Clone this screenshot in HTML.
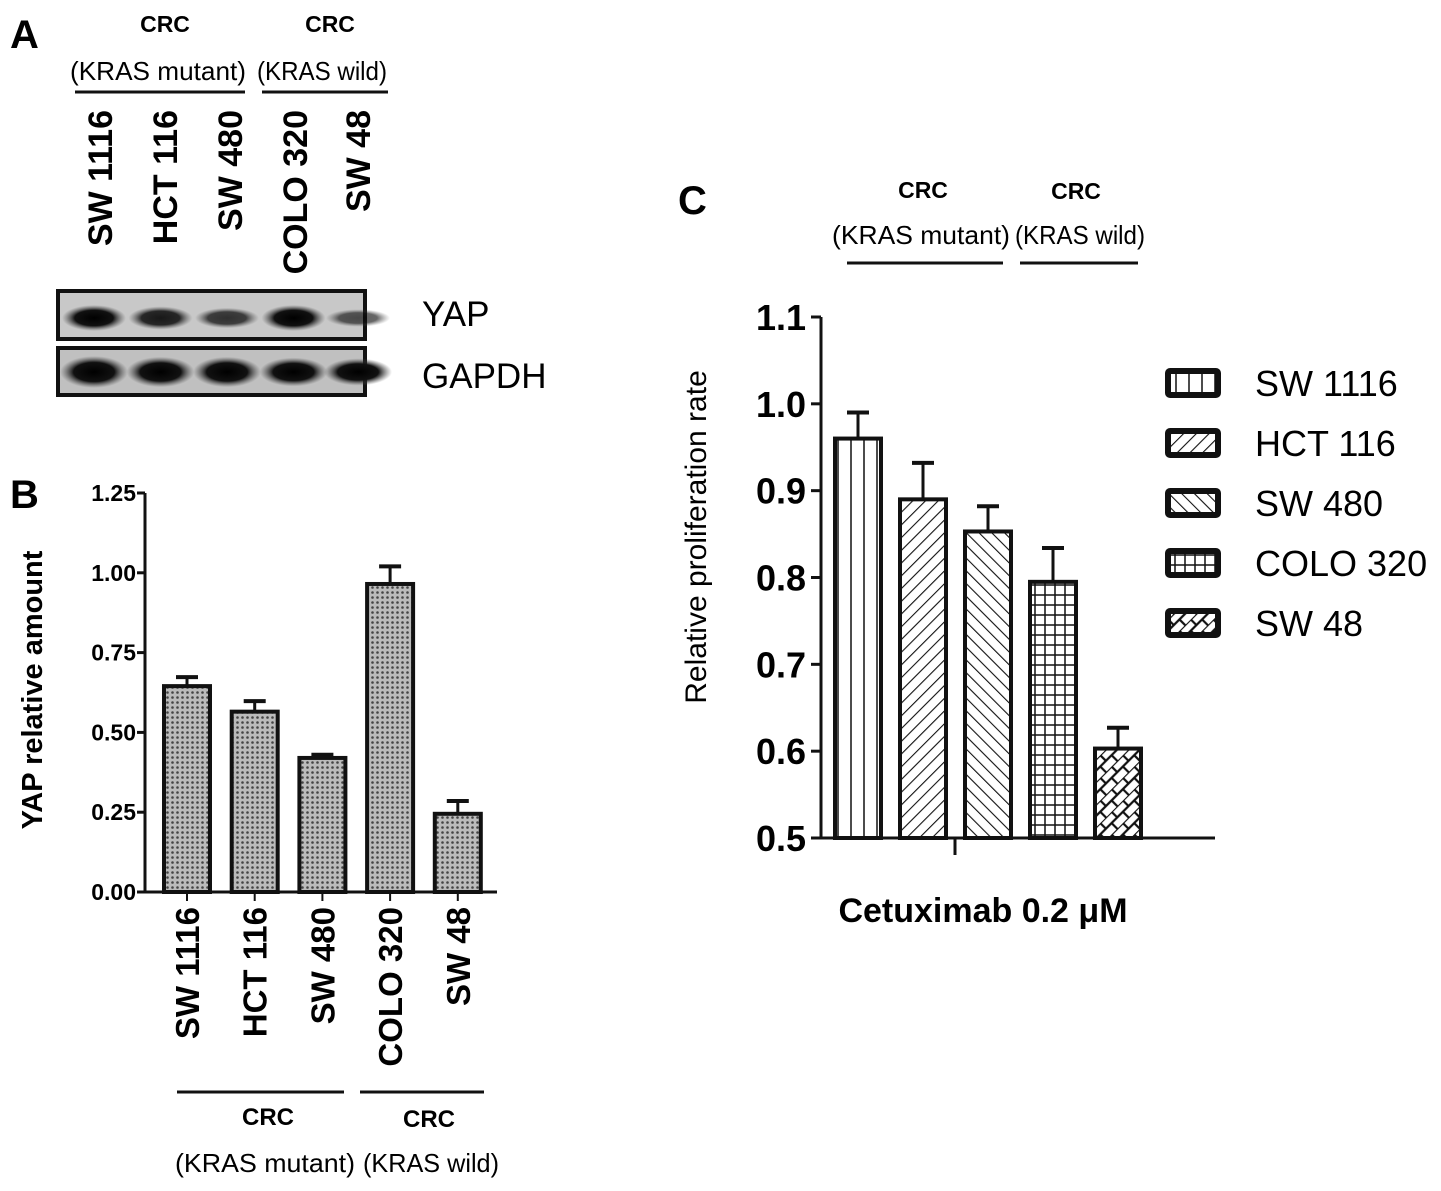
<!DOCTYPE html>
<html><head><meta charset="utf-8"><style>
html,body{margin:0;padding:0;background:#fff}
svg{display:block;font-family:"Liberation Sans",Arial,sans-serif}
.b{font-weight:bold}
</style></head><body>
<svg id="fig" width="1441" height="1191" viewBox="0 0 1441 1191">
<defs>
<pattern id="pDots" width="5" height="5" patternUnits="userSpaceOnUse"><rect width="5" height="5" fill="#bbb"/><circle cx="2.5" cy="2.5" r="1.3" fill="#444"/></pattern>
<pattern id="pVert" width="13" height="10" patternUnits="userSpaceOnUse"><rect width="13" height="10" fill="#fff"/><line x1="6" y1="0" x2="6" y2="10" stroke="#111" stroke-width="1.5"/></pattern>
<pattern id="pDiagR" width="9" height="9" patternUnits="userSpaceOnUse" patternTransform="rotate(45)"><rect width="9" height="9" fill="#fff"/><line x1="0" y1="0" x2="0" y2="9" stroke="#111" stroke-width="2.2"/></pattern>
<pattern id="pDiagL" width="9" height="9" patternUnits="userSpaceOnUse" patternTransform="rotate(-45)"><rect width="9" height="9" fill="#fff"/><line x1="0" y1="0" x2="0" y2="9" stroke="#111" stroke-width="2.2"/></pattern>
<pattern id="pGrid" width="10" height="10" patternUnits="userSpaceOnUse"><rect width="10" height="10" fill="#fff"/><path d="M5 0V10M0 5H10" stroke="#111" stroke-width="1.5"/></pattern>
<pattern id="pBrick" width="16" height="16" patternUnits="userSpaceOnUse" patternTransform="rotate(-45)"><rect width="16" height="16" fill="#fff"/><path d="M0 0H16M0 8H16M4 0V8M12 8V16" stroke="#111" stroke-width="2.2"/></pattern>
<radialGradient id="band"><stop offset="0" stop-color="#000"/><stop offset="0.6" stop-color="#111"/><stop offset="1" stop-color="#555" stop-opacity="0"/></radialGradient>
</defs>

<!-- Panel A -->
<g>
<text x="10" y="48" class="b" font-size="40">A</text>
<text x="165" y="32" class="b" font-size="23" text-anchor="middle">CRC</text>
<text x="330" y="32" class="b" font-size="23" text-anchor="middle">CRC</text>
<text x="70" y="80" font-size="26" textLength="176" lengthAdjust="spacingAndGlyphs">(KRAS mutant)</text>
<text x="257" y="80" font-size="26" textLength="130" lengthAdjust="spacingAndGlyphs">(KRAS wild)</text>
<line x1="75" y1="92" x2="245" y2="92" stroke="#111" stroke-width="3"/>
<line x1="262" y1="92" x2="388" y2="92" stroke="#111" stroke-width="3"/>
<g id="blotLabels" class="b" font-size="34"></g>
<rect x="58" y="291" width="307" height="48" fill="#c8c8c8" stroke="#111" stroke-width="4"/>
<rect x="58" y="348" width="307" height="47" fill="#c0c0c0" stroke="#111" stroke-width="4"/>
<g id="bands"></g>
<text x="422" y="326" font-size="35">YAP</text>
<text x="422" y="388" font-size="35">GAPDH</text>
</g>

<!-- Panel B -->
<g id="panelB">
<text x="10" y="508" class="b" font-size="40">B</text>
<text transform="translate(42,690) rotate(-90)" class="b" font-size="29" text-anchor="middle">YAP relative amount</text>
<line x1="177" y1="1092" x2="344" y2="1092" stroke="#111" stroke-width="3"/>
<line x1="360" y1="1092" x2="484" y2="1092" stroke="#111" stroke-width="3"/>
<text x="268" y="1125" class="b" font-size="24" text-anchor="middle">CRC</text>
<text x="429" y="1127" class="b" font-size="24" text-anchor="middle">CRC</text>
<text x="175" y="1172" font-size="26" textLength="180" lengthAdjust="spacingAndGlyphs">(KRAS mutant)</text>
<text x="363" y="1172" font-size="26" textLength="136" lengthAdjust="spacingAndGlyphs">(KRAS wild)</text>
</g>

<!-- Panel C -->
<g id="panelC">
<text x="678" y="214" class="b" font-size="40">C</text>
<text x="923" y="198" class="b" font-size="23" text-anchor="middle">CRC</text>
<text x="1076" y="199" class="b" font-size="23" text-anchor="middle">CRC</text>
<text x="832" y="244" font-size="26" textLength="178" lengthAdjust="spacingAndGlyphs">(KRAS mutant)</text>
<text x="1015" y="244" font-size="26" textLength="130" lengthAdjust="spacingAndGlyphs">(KRAS wild)</text>
<line x1="847" y1="263" x2="1003" y2="263" stroke="#111" stroke-width="3"/>
<line x1="1020" y1="263" x2="1138" y2="263" stroke="#111" stroke-width="3"/>
<text transform="translate(706,537) rotate(-90)" font-size="30" text-anchor="middle">Relative proliferation rate</text>
<text x="983" y="922" class="b" font-size="34" text-anchor="middle">Cetuximab 0.2 μM</text>
</g>
</svg>
<script>
const cells = ["SW 1116","HCT 116","SW 480","COLO 320","SW 48"];
const yapValues = [0.645, 0.565, 0.42, 0.965, 0.245];
const yapErrors = [0.028, 0.033, 0.01, 0.055, 0.04];
const yapTicks = ["0.00","0.25","0.50","0.75","1.00","1.25"];
const prolValues = [0.96, 0.89, 0.853, 0.795, 0.603];
const prolErrors = [0.03, 0.042, 0.029, 0.039, 0.024];
const prolTicks = ["0.5","0.6","0.7","0.8","0.9","1.0","1.1"];
const yapBand = [1.0, 0.8, 0.6, 1.0, 0.4];
const gapdhBand = [1.0, 0.95, 0.95, 0.9, 0.85];

const NS="http://www.w3.org/2000/svg";
function mk(tag, attrs, parent){const e=document.createElementNS(NS,tag);for(const k in attrs)e.setAttribute(k,attrs[k]);parent.appendChild(e);return e;}

// Panel A lane labels and bands
const laneX=[100,165,230,295,358];
const bl=document.getElementById('blotLabels');
cells.forEach((c,i)=>{
  const t=mk('text',{transform:`translate(${laneX[i]+12},110) rotate(-90)`,'text-anchor':'end'},bl);
  t.textContent=c;
  
  
});
const bands=document.getElementById('bands');
cells.forEach((c,i)=>{
  const a=mk('ellipse',{cx:laneX[i]-6+i*1.5,cy:318,rx:32,ry:6+7*yapBand[i],fill:'url(#band)',opacity:0.4+0.6*yapBand[i]},bands);
  
  
  const g=mk('ellipse',{cx:laneX[i]-6+i*1.5,cy:372,rx:34,ry:16*gapdhBand[i],fill:'url(#band)'},bands);
  
  
});

// Panel B
const pB=document.getElementById('panelB');
const bX0=145, bY0=892, bY1=493, bMax=1.25;
const yB=v=>bY0-(v/bMax)*(bY0-bY1);
const barBX=i=>164+i*67.7;
const bW=46;
mk('line',{x1:bX0,y1:bY1,x2:bX0,y2:bY0+1.5,stroke:'#111','stroke-width':3},pB);
mk('line',{x1:bX0-1.5,y1:bY0,x2:497,y2:bY0,stroke:'#111','stroke-width':3},pB);
yapTicks.forEach(t=>{
  const v=parseFloat(t), y=yB(v);
  mk('line',{x1:bX0-8,y1:y,x2:bX0,y2:y,stroke:'#111','stroke-width':3},pB);
  const tx=mk('text',{x:bX0-9,y:y+8,'text-anchor':'end','font-size':23,'font-weight':'bold'},pB);
  tx.textContent=t;
  
  
});
cells.forEach((c,i)=>{
  const x=barBX(i), cx=x+bW/2, top=yB(yapValues[i]), et=yB(yapValues[i]+yapErrors[i]);
  const l=mk('line',{x1:cx,y1:et,x2:cx,y2:top,stroke:'#111','stroke-width':3},pB);
  
  
  const cap=mk('line',{x1:cx-11,y1:et,x2:cx+11,y2:et,stroke:'#111','stroke-width':4},pB);
  
  
  const r=mk('rect',{x:x,y:top,width:bW,height:bY0-top,fill:'url(#pDots)',stroke:'#111','stroke-width':4},pB);
  
  
  mk('line',{x1:cx,y1:bY0,x2:cx,y2:bY0+9,stroke:'#111','stroke-width':2},pB);
  const tx=mk('text',{transform:`translate(${cx+12},${bY0+15}) rotate(-90)`,'text-anchor':'end','font-size':33,'font-weight':'bold'},pB);
  tx.textContent=c;
  
  
});

// Panel C
const pC=document.getElementById('panelC');
const cX0=821, cY0=838, cY1=317, cMin=0.5, cMax=1.1;
const yC=v=>cY0-((v-cMin)/(cMax-cMin))*(cY0-cY1);
const barCX=i=>835+i*65;
const cW=46;
const fills=['url(#pVert)','url(#pDiagR)','url(#pDiagL)','url(#pGrid)','url(#pBrick)'];
mk('line',{x1:cX0,y1:cY1,x2:cX0,y2:cY0+1.5,stroke:'#111','stroke-width':3},pC);
mk('line',{x1:cX0-1.5,y1:cY0,x2:1215,y2:cY0,stroke:'#111','stroke-width':3},pC);
mk('line',{x1:955,y1:cY0,x2:955,y2:cY0+17,stroke:'#111','stroke-width':3},pC);
prolTicks.forEach(t=>{
  const v=parseFloat(t), y=yC(v);
  mk('line',{x1:cX0-10,y1:y,x2:cX0,y2:y,stroke:'#111','stroke-width':3},pC);
  const tx=mk('text',{x:cX0-15,y:y+13,'text-anchor':'end','font-size':36,'font-weight':'bold'},pC);
  tx.textContent=t;
  
  
});
cells.forEach((c,i)=>{
  const x=barCX(i), cx=x+cW/2, top=yC(prolValues[i]), et=yC(prolValues[i]+prolErrors[i]);
  const l=mk('line',{x1:cx,y1:et,x2:cx,y2:top,stroke:'#111','stroke-width':3},pC);
  
  
  const cap=mk('line',{x1:cx-11,y1:et,x2:cx+11,y2:et,stroke:'#111','stroke-width':4},pC);
  
  
  const r=mk('rect',{x:x,y:top,width:cW,height:cY0-top,fill:fills[i],stroke:'#111','stroke-width':4},pC);
  
  
  const ly=371+i*60;
  const lb=mk('rect',{x:1168,y:ly,width:50,height:24,fill:fills[i],stroke:'#111','stroke-width':6,rx:2},pC);
  
  
  const lt=mk('text',{x:1255,y:ly+25,'font-size':36},pC);
  lt.textContent=c;
  
  
});
</script>
</body></html>
